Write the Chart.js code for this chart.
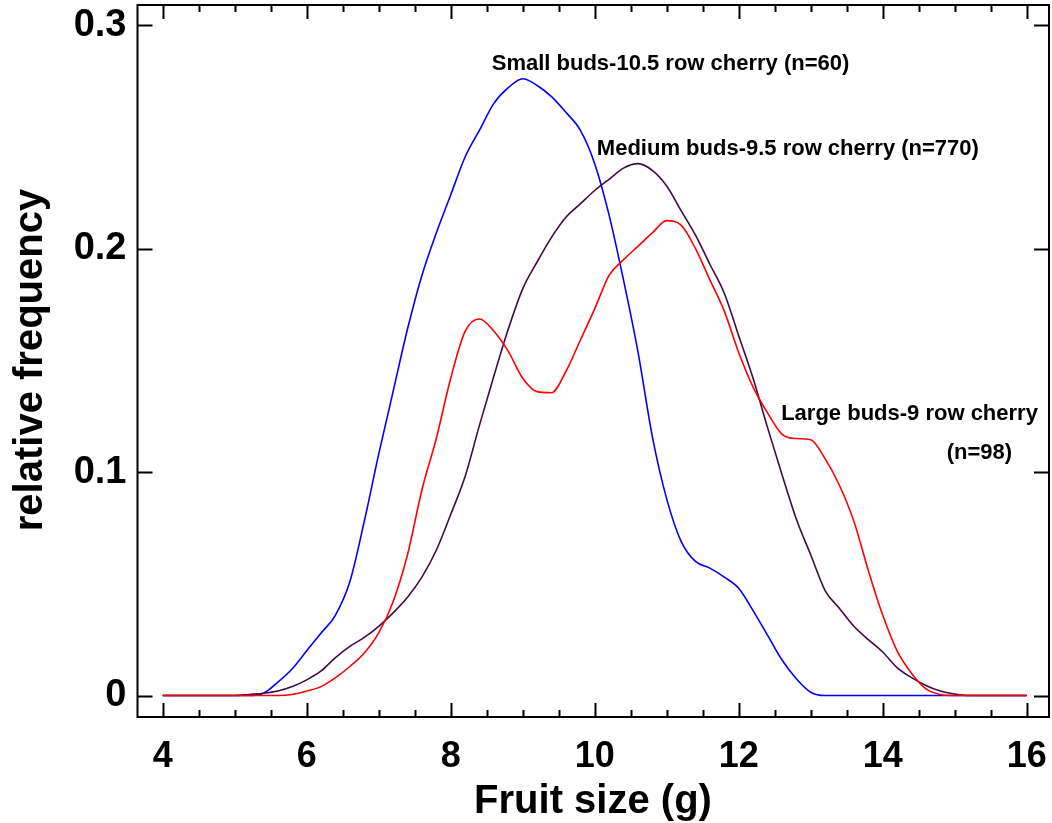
<!DOCTYPE html>
<html>
<head>
<meta charset="utf-8">
<title>Fruit size distribution</title>
<script src="https://cdn.jsdelivr.net/npm/chart.js@4"></script>
<style>
  html, body { margin: 0; padding: 0; background: #fff; }
  #wrap { width: 1052px; height: 823px; }
</style>
</head>
<body>
<div id="wrap"><canvas id="sizeChart"></canvas></div>
<script>
// fruit size grid (g)
const sizes = [
  4.0, 4.2, 4.4, 4.6, 4.8,
  5.0, 5.2, 5.4, 5.6, 5.8,
  6.0, 6.2, 6.4, 6.6, 6.8,
  7.0, 7.2, 7.4, 7.6, 7.8,
  8.0, 8.2, 8.4, 8.6, 8.8,
  9.0, 9.2, 9.4, 9.6, 9.8,
  10.0, 10.2, 10.4, 10.6, 10.8,
  11.0, 11.2, 11.4, 11.6, 11.8,
  12.0, 12.2, 12.4, 12.6, 12.8,
  13.0, 13.2, 13.4, 13.6, 13.8,
  14.0, 14.2, 14.4, 14.6, 14.8,
  15.0, 15.2, 15.4, 15.6, 15.8,
  16.0
];

// relative frequency per bud class
const small_buds = [
  0, 0, 0, 0, 0,
  0, 0, 0.001, 0.006, 0.012,
  0.020, 0.028, 0.036, 0.051, 0.078,
  0.108, 0.136, 0.164, 0.188, 0.207,
  0.224, 0.241, 0.253, 0.265, 0.272,
  0.276, 0.273, 0.268, 0.261, 0.253,
  0.238, 0.215, 0.186, 0.154, 0.116,
  0.088, 0.069, 0.060, 0.057, 0.053,
  0.048, 0.038, 0.027, 0.016, 0.0075,
  0.0015, 0, 0, 0, 0,
  0, 0, 0, 0, 0,
  0, 0, 0, 0, 0,
  0
];
const medium_buds = [
  0, 0, 0, 0, 0,
  0, 0.0005, 0.001, 0.002, 0.004,
  0.007, 0.011, 0.017, 0.022, 0.026,
  0.031, 0.037, 0.044, 0.053, 0.065,
  0.081, 0.098, 0.121, 0.143, 0.164,
  0.182, 0.194, 0.205, 0.214, 0.220,
  0.226, 0.231, 0.236, 0.238, 0.235,
  0.228, 0.217, 0.206, 0.193, 0.180,
  0.161, 0.142, 0.120, 0.099, 0.079,
  0.063, 0.047, 0.039, 0.031, 0.025,
  0.0195, 0.0125, 0.008, 0.0045, 0.002,
  0.0007, 0, 0, 0, 0,
  0
];
const large_buds = [
  0, 0, 0, 0, 0,
  0, 0, 0, 0, 0.0005,
  0.002, 0.004, 0.008, 0.013, 0.019,
  0.028, 0.042, 0.063, 0.092, 0.115,
  0.142, 0.163, 0.1685, 0.163, 0.154,
  0.142, 0.136, 0.1355, 0.145, 0.159,
  0.173, 0.188, 0.195, 0.201, 0.207,
  0.2125, 0.2105, 0.200, 0.186, 0.172,
  0.1535, 0.138, 0.1265, 0.117, 0.115,
  0.1145, 0.106, 0.094, 0.078, 0.056,
  0.036, 0.020, 0.010, 0.003, 0.0005,
  0, 0, 0, 0, 0,
  0
];

// axis ticks
const x_major = [4, 6, 8, 10, 12, 14, 16];
const x_minor = [4.5, 5, 5.5, 6.5, 7, 7.5, 8.5, 9, 9.5, 10.5, 11, 11.5, 12.5, 13, 13.5, 14.5, 15, 15.5];
const y_major = [0, 0.1, 0.2, 0.3];
const y_labels = ['0', '0.1', '0.2', '0.3'];

// curve labels: text, anchor size, anchor frequency (left / baseline)
const notes = [
  ['Small buds-10.5 row cherry (n=60)', 8.57, 0.2799],
  ['Medium buds-9.5 row cherry (n=770)', 10.03, 0.2418],
  ['Large buds-9 row cherry', 12.59, 0.1233],
  ['(n=98)', 14.89, 0.1058]
];

const FONT = '"Liberation Sans", Arial, sans-serif';

function points(ys) {
  return sizes.map((s, i) => ({x: s, y: ys[i]}));
}

// box, inward ticks, axis titles and curve labels
const decorations = {
  id: 'decorations',
  afterDraw(chart) {
    const ctx = chart.ctx;
    const a = chart.chartArea;
    const xs = chart.scales.x;
    const ys = chart.scales.y;
    ctx.save();
    ctx.strokeStyle = '#000';
    ctx.lineWidth = 2;
    ctx.strokeRect(a.left, a.top, a.right - a.left, a.bottom - a.top);

    ctx.beginPath();
    x_major.forEach(v => {
      const px = Math.round(xs.getPixelForValue(v)) + 0.5;
      ctx.moveTo(px, a.bottom); ctx.lineTo(px, a.bottom - 14);
      ctx.moveTo(px, a.top); ctx.lineTo(px, a.top + 14);
    });
    x_minor.forEach(v => {
      const px = Math.round(xs.getPixelForValue(v)) + 0.5;
      ctx.moveTo(px, a.bottom); ctx.lineTo(px, a.bottom - 7);
      ctx.moveTo(px, a.top); ctx.lineTo(px, a.top + 7);
    });
    y_major.forEach(v => {
      const py = Math.round(ys.getPixelForValue(v)) + 0.5;
      ctx.moveTo(a.left, py); ctx.lineTo(a.left + 15, py);
      ctx.moveTo(a.right, py); ctx.lineTo(a.right - 15, py);
    });
    ctx.stroke();

    ctx.fillStyle = '#000';
    ctx.font = 'bold 40px ' + FONT;
    ctx.textAlign = 'center';
    ctx.textBaseline = 'alphabetic';
    ctx.fillText('Fruit size (g)', 593, 813);

    ctx.save();
    ctx.translate(42, 360);
    ctx.rotate(-Math.PI / 2);
    ctx.fillText('relative frequency', 0, 0);
    ctx.restore();

    ctx.font = 'bold 22px ' + FONT;
    ctx.textAlign = 'left';
    notes.forEach(([txt, sx, fy]) => {
      ctx.fillText(txt, xs.getPixelForValue(sx), ys.getPixelForValue(fy));
    });
    ctx.restore();
  }
};

const ctx = document.getElementById('sizeChart').getContext('2d');
const sizeChart = new Chart(ctx, {
  type: 'line',
  data: {
    datasets: [
      {label: 'Large buds', data: points(large_buds), borderColor: '#ff0000'},
      {label: 'Medium buds', data: points(medium_buds), borderColor: '#420a45'},
      {label: 'Small buds', data: points(small_buds), borderColor: '#0000ff'}
    ]
  },
  options: {
    responsive: true,
    maintainAspectRatio: false,
    animation: false,
    layout: {padding: {top: 5, right: 3, left: 0, bottom: 0}},
    elements: {
      point: {radius: 0},
      line: {borderWidth: 1.6, cubicInterpolationMode: 'monotone', fill: false}
    },
    plugins: {legend: {display: false}, tooltip: {enabled: false}},
    scales: {
      x: {
        type: 'linear',
        min: 3.65,
        max: 16.31,
        grid: {display: false},
        border: {display: false},
        afterBuildTicks: s => { s.ticks = x_major.map(v => ({value: v})); },
        afterFit: s => { s.height = 106; s.paddingLeft = 0; s.paddingRight = 0; },
        ticks: {
          color: '#000',
          font: {family: FONT, size: 36, weight: 'bold'},
          padding: 10,
          maxRotation: 0,
          callback: v => String(v)
        }
      },
      y: {
        min: -0.0096,
        max: 0.309,
        grid: {display: false},
        border: {display: false},
        afterBuildTicks: s => { s.ticks = y_major.map(v => ({value: v})); },
        afterFit: s => { s.width = 137.5; s.paddingTop = 0; s.paddingBottom = 0; },
        ticks: {
          color: '#000',
          font: {family: FONT, size: 38, weight: 'bold'},
          padding: 3,
          callback: v => y_labels[y_major.indexOf(v)]
        }
      }
    }
  },
  plugins: [decorations]
});
</script>
</body>
</html>
